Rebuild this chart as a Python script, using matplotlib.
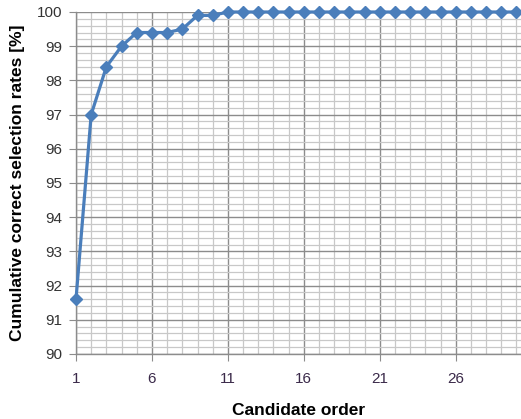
import matplotlib
matplotlib.use("Agg")
import matplotlib.pyplot as plt
from matplotlib.ticker import MultipleLocator, FixedLocator

order = list(range(1, 31))
rates = [91.6, 97.0, 98.4, 99.0, 99.4, 99.4, 99.4, 99.5, 99.9, 99.9] + [100.0] * 20
xticks = [1, 6, 11, 16, 21, 26]
yticks = list(range(90, 101))

plt.rcParams['font.family'] = ['Liberation Sans', 'DejaVu Sans']
fig = plt.figure(figsize=(5.21, 4.19), dpi=100)
ax = fig.add_axes([76/521, 65/419, 445/521, 342/419])

ax.set_xlim(1, 30.3)
ax.set_ylim(90, 100)
ax.xaxis.set_major_locator(FixedLocator(xticks))
ax.xaxis.set_minor_locator(MultipleLocator(1))
ax.yaxis.set_major_locator(FixedLocator(yticks))
ax.yaxis.set_minor_locator(MultipleLocator(0.2))

ax.grid(which='minor', color='#c8c8c8', linewidth=0.9)
ax.grid(which='major', color='#8c8c8c', linewidth=1.0)
ax.set_axisbelow(True)

ax.plot(order, rates, color='#4a7ebb', linewidth=2.3, marker='D', markersize=6.5,
        clip_on=False, zorder=3)

for s in ['top', 'right']:
    ax.spines[s].set_visible(False)
for s in ['left', 'bottom']:
    ax.spines[s].set_color('#8c8c8c')
    ax.spines[s].set_linewidth(1.0)

ax.tick_params(which='major', axis='x', length=5, color='#8c8c8c', labelsize=11,
               labelcolor='#3b2a4a', pad=8)
ax.tick_params(which='major', axis='y', length=5, color='#8c8c8c', labelsize=11,
               labelcolor='#333333', pad=5)
ax.tick_params(which='minor', length=0)

ax.set_xlabel('Candidate order', fontsize=12.5, fontweight='bold', labelpad=12)
ax.set_ylabel('Cumulative correct selection rates [%]', fontsize=12.5, fontweight='bold', labelpad=8)

fig.savefig('out.png', dpi=100)
